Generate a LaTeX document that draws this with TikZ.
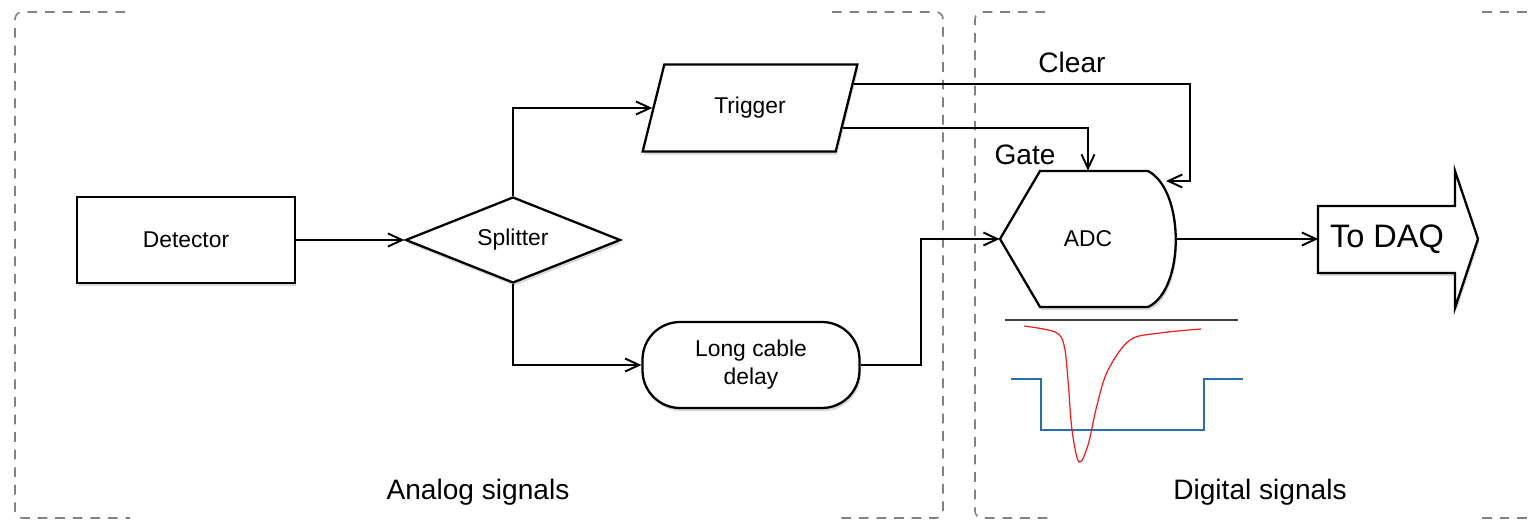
\documentclass[tikz,border=0pt]{standalone}
\usepackage{fontspec}
\setmainfont{Liberation Sans}
\usetikzlibrary{arrows.meta}
\usetikzlibrary{calc}
\usetikzlibrary{shapes.geometric}
\usetikzlibrary{shadows}
\definecolor{dashgray}{RGB}{130,130,130}
\definecolor{pulsered}{RGB}{240,30,30}
\definecolor{gateblue}{RGB}{45,110,165}
\newcommand{\drawarrow}{\draw[-{Straight Barb[length=2.8mm,width=2.6mm]}, line width=1.1pt]}

\begin{document}
\begin{tikzpicture}[x=0.02cm, y=-0.02cm,
    block/.style={draw, line width=1.3pt, fill=white, font=\fontsize{13}{16}\selectfont,
        drop shadow={shadow xshift=0.8pt, shadow yshift=-1.8pt, opacity=0.3}},
    sigtext/.style={font=\fontsize{16}{19}\selectfont},
    region/.style={draw=dashgray, line width=0.9pt, dash pattern=on 5.5pt off 4.5pt, rounded corners=4pt}]
    \useasboundingbox (0,0) rectangle (1532,520);

    % Dashed regions
    \draw[region] (125,12) -- (15,12) -- (15,518) -- (130,518);
    \draw[region] (832,12) -- (943,12) -- (943,518) -- (838,518);
    \draw[region] (1045,12) -- (975,12) -- (975,518) -- (1050,518);
    \draw[region] (1482,12) -- (1545,12);
    \draw[region] (1482,518) -- (1545,518);

    % Analog part
    \node[block, minimum width=4.36cm, minimum height=1.72cm] (det) at (186,240) {Detector};
    \node[block, diamond, aspect=2.5, minimum width=4.3cm, minimum height=1.72cm, inner sep=0pt] (split) at (513,240) {Splitter};
    \node[block, trapezium, trapezium left angle=67, trapezium right angle=113, trapezium stretches=true,
        minimum width=4.3cm, minimum height=1.74cm, inner sep=0pt] (trig) at (750,108) {Trigger};
    \node[block, rounded corners=0.75cm, minimum width=4.34cm, minimum height=1.72cm, align=center] (delay) at (751,365) {Long cable\\delay};

    % Digital part
    \draw[line width=1.3pt, fill=white, drop shadow={shadow xshift=0.8pt, shadow yshift=-1.8pt, opacity=0.3}]
        (1000,239) -- (1040,171) -- (1148,171) .. controls (1185,190) and (1185,290) .. (1148,307) -- (1040,307) -- cycle;
    \node[minimum width=3.52cm, minimum height=2.72cm, font=\fontsize{13}{16}\selectfont] (adc) at (1088,239) {ADC};
    \draw[line width=1.3pt, fill=white, drop shadow={shadow xshift=0.8pt, shadow yshift=-1.8pt, opacity=0.3}]
        (1318,206) -- (1455,206) -- (1455,171) -- (1478,239) -- (1455,308) -- (1455,273) -- (1318,273) -- cycle;
    \node[minimum width=2.74cm, inner sep=0pt, font=\fontsize{18.5}{21}\selectfont] (daq) at (1387,239) {To DAQ};

    % Signals
    \drawarrow (det) -- (split);
    \drawarrow (split.north) |- (trig.west);
    \drawarrow (split.south) |- (delay.west);
    \drawarrow (delay.east) -- ++(60,0) |- (adc.west);
    \drawarrow (adc) -- (daq);

    \coordinate (clrout) at ($(trig.top right corner)!0.23!(trig.bottom right corner)$);
    \coordinate (gateout) at ($(trig.top right corner)!0.72!(trig.bottom right corner)$);
    \coordinate (clrin) at (1166,181);
    \drawarrow (clrout) -| ($(clrin)+(24,0)$) -- (clrin);
    \drawarrow (gateout) -| (adc.north);

    \node[sigtext] (clear) at (1072,62) {Clear};
    \node[sigtext] (gate) at (1025,155) {Gate};
    \node[sigtext] (analog) at (478,492) {Analog signals};
    \node[sigtext] (digital) at (1260,492) {Digital signals};

    % Pulse and gate window
    \draw[black!75, line width=0.6pt] (1005,320) -- (1238,320);
    \draw[gateblue, line width=0.7pt] (1011,379) -- (1041,379) -- (1041,430) -- (1204,430) -- (1204,379) -- (1243,379);
    \draw[pulsered, line width=0.7pt] plot[smooth, tension=0.55] coordinates {
        (1024,326) (1055,332) (1064,345) (1068,380) (1072,430) (1079,462)
        (1088,445) (1097,405) (1108,370) (1130,340) (1160,333) (1201,329)};
\end{tikzpicture}
\end{document}
